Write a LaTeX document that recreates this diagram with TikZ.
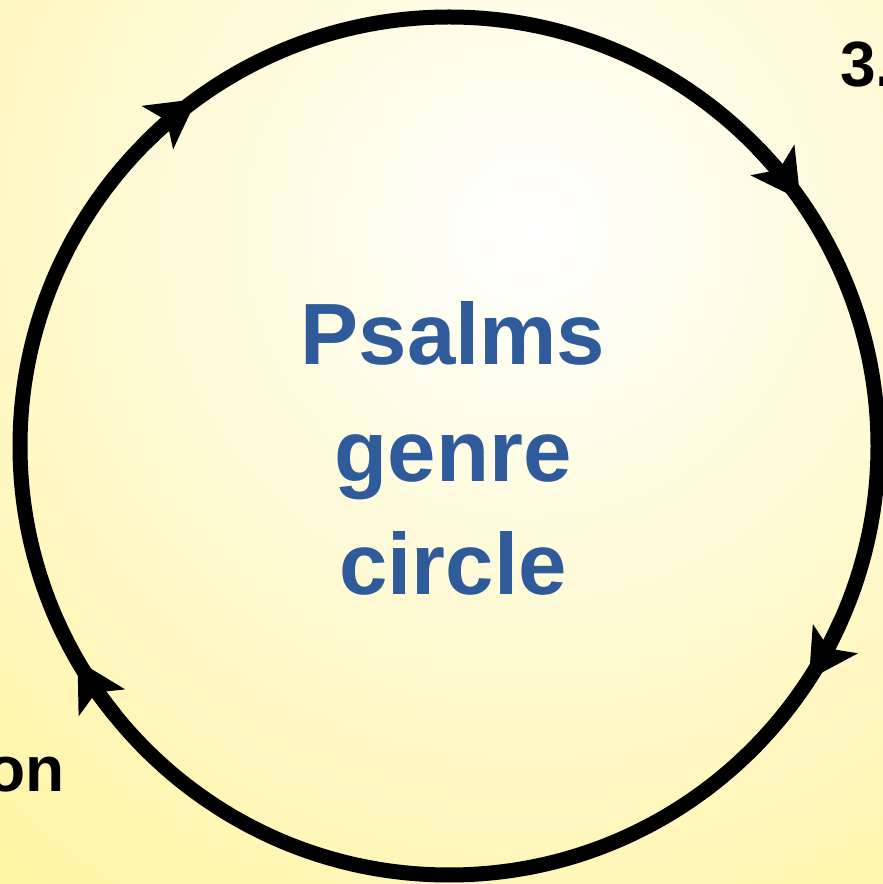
\documentclass[tikz,border=0pt]{standalone}
\usepackage{fontspec}
\usetikzlibrary{arrows.meta,calc}
\newfontfamily\psfont{Liberation Sans}
\definecolor{psblue}{HTML}{2F5B9A}
\definecolor{psyellow}{HTML}{FFF28C}
\tikzset{
  ring/.style={line width=15pt, draw=black},
  flowtip/.style={ring, -{Stealth[length=48pt, width=52pt, inset=11pt]}},
  centretext/.style={font=\psfont\bfseries\fontsize{87}{104}\selectfont,
                     text=psblue, anchor=base, inner sep=0pt},
  cutlabel/.style={font=\psfont\bfseries\fontsize{64}{77}\selectfont,
                   anchor=base west, inner sep=0pt},
}
\begin{document}
\begin{tikzpicture}[x=1pt, y=1pt]
\useasboundingbox (0,0) rectangle (883,884);
% glow behind the circle
\begin{scope}
  \clip (0,0) rectangle (883,884);
  \shade[inner color=white, outer color=psyellow] (530,654) circle (1050);
\end{scope}

\coordinate (c) at (449,438);
\draw[ring] (c) circle (429);
\foreach \a in {126,35,-33,210}
  \draw[flowtip] ($(c)+(\a+9:429)$) arc[start angle=\a+9, end angle=\a, radius=429];

\node[centretext] (psalms) at (453,519) {Psalms};
\node[centretext] (genre) at (453,402) {genre};
\node[centretext] (circ) at (453,289) {circle};

\node[cutlabel] (three) at (840,797) {3.};
\node[cutlabel] (part) at (-14,92) {on};
\end{tikzpicture}
\end{document}
